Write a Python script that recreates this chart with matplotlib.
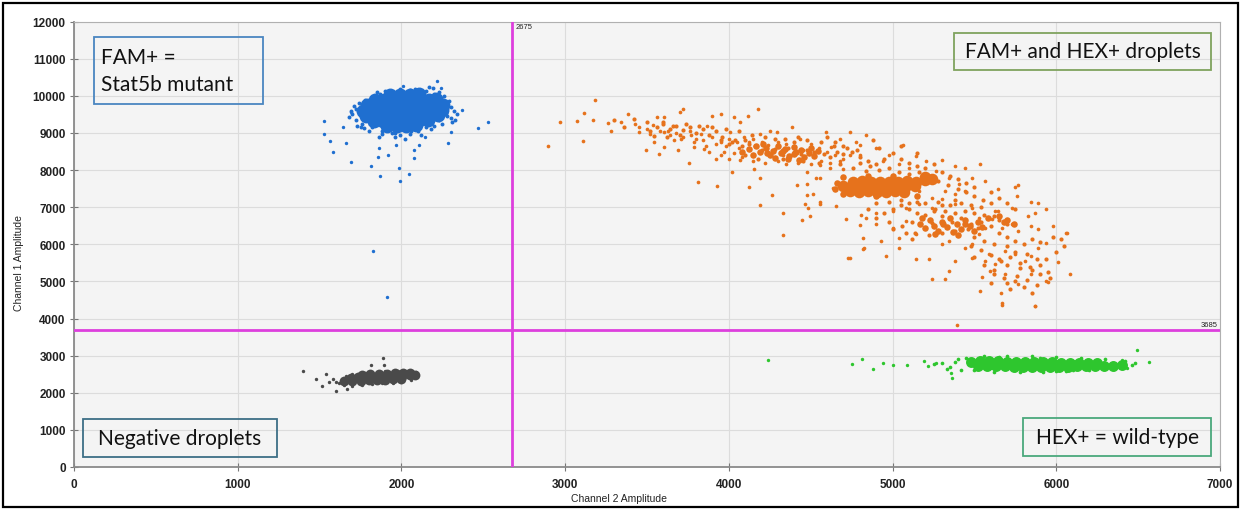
import matplotlib
matplotlib.use("Agg")
import matplotlib.pyplot as plt
from matplotlib.patches import Rectangle

# ---------------- data ----------------
x_threshold = 2675
y_threshold = 3685
x_ticks = [0, 1000, 2000, 3000, 4000, 5000, 6000, 7000]
y_ticks = [0, 1000, 2000, 3000, 4000, 5000, 6000, 7000, 8000, 9000, 10000, 11000, 12000]

# FAM+ (blue) cluster
blue_core_x = [1930, 1990, 2050, 2110,
               1840, 1895, 1950, 2005, 2060, 2115, 2170, 2210,
               1790, 1845, 1900, 1955, 2010, 2065, 2120, 2175, 2230, 2255,
               1765, 1820, 1875, 1930, 1985, 2040, 2095, 2150, 2205, 2250,
               1785, 1840, 1895, 1950, 2005, 2060, 2115, 2170, 2225,
               1830, 1885, 1940, 1995, 2050, 2105, 2160,
               1910, 1970, 2030, 2090]
blue_core_y = [10010, 10020, 10030, 10040,
               9880, 9880, 9885, 9890, 9890, 9895, 9900, 9910,
               9740, 9740, 9745, 9745, 9750, 9750, 9755, 9760, 9765, 9760,
               9600, 9600, 9605, 9605, 9610, 9610, 9615, 9620, 9625, 9620,
               9460, 9460, 9465, 9465, 9470, 9470, 9475, 9480, 9480,
               9320, 9320, 9325, 9330, 9335, 9340, 9345,
               9190, 9190, 9200, 9210]
blue_fringe_x = [1780, 1830, 1870, 1920, 1990, 2050, 2100, 2150, 2190, 2230,
                 2260, 2290, 2300, 2280, 2310, 2250, 2200, 2180, 2100, 2050,
                 1990, 1940, 1880, 1820, 1760, 1720, 1700, 1720, 1740, 1860,
                 1960, 2020, 2120, 1680, 2340, 2320, 2270, 1750, 1800, 2200,
                 2240, 1900, 2000, 2080, 1960, 1710, 2300, 1840, 1730, 1770,
                 1810, 2150, 2230, 2270, 1880, 2060, 1690, 2330, 2170, 1850]
blue_fringe_y = [9900, 9980, 10050, 10080, 10180, 10160, 10150, 10120, 10200, 10100,
                 10000, 9850, 9700, 9450, 9300, 9250, 9200, 9100, 9050, 8980,
                 8950, 9000, 9050, 9150, 9250, 9350, 9500, 9650, 9800, 8900,
                 8880, 8850, 8950, 9420, 9500, 9600, 9550, 9150, 9050, 10050,
                 9950, 10120, 10150, 10180, 8990, 9720, 9400, 10000, 9200, 9120,
                 9230, 9150, 9350, 9650, 8960, 9050, 9600, 9350, 10250, 10100]
blue_out_x = [1525, 1525, 1564, 1580, 1693, 1816, 1867, 1994, 2048, 2075,
              1984, 1859, 1917, 2529, 2465, 2372, 2287, 2301, 2240, 2216,
              2008, 1661, 1641, 1691, 1964, 2075, 1863, 2105, 2145, 1824, 1909]
blue_out_y = [9310, 8982, 8796, 8495, 8204, 8097, 7849, 7699, 7903, 8318,
              8053, 8354, 8407, 9292, 9142, 9619, 8717, 9027, 10221, 10398,
              10265, 8717, 9160, 9558, 8673, 8540, 8584, 8673, 8894, 5818, 4584]

# Negative (grey) cluster
gray_core_x = [1760, 1810, 1860, 1910, 1960, 2010, 2055,
               1690, 1735, 1780, 1825, 1870, 1915, 1960, 2005, 2050, 2080,
               1650, 1700, 1750, 1800, 1850, 1900, 1950, 2000]
gray_core_y = [2490, 2500, 2505, 2510, 2520, 2530, 2540,
               2410, 2415, 2420, 2425, 2430, 2440, 2450, 2460, 2470, 2480,
               2320, 2325, 2330, 2335, 2345, 2355, 2365, 2380]
gray_fringe_x = [1600, 1620, 1650, 1700, 1760, 1820, 1880, 1950, 2000, 2060, 2090,
                 2090, 2050, 1980, 1900, 1850, 1780, 1700, 1660, 1580, 1560, 1700]
gray_fringe_y = [2300, 2250, 2200, 2230, 2220, 2230, 2250, 2270, 2300, 2350, 2450,
                 2550, 2580, 2580, 2590, 2570, 2540, 2500, 2450, 2380, 2280, 2180]
gray_out_x = [1400, 1477, 1515, 1537, 1598, 1816, 1887, 1667, 1891]
gray_out_y = [2574, 2367, 2170, 2493, 2037, 2761, 2949, 2100, 2753]

# HEX+ (green) cluster
green_core_x = [5480, 5535, 5590, 5645, 5700, 5755, 5810, 5865, 5920, 5975, 6030, 6085, 6140, 6195, 6250,
                5520, 5575, 5630, 5685, 5740, 5795, 5850, 5905, 5960, 6015, 6070, 6125, 6180, 6235, 6290, 6345, 6400,
                5600, 5700, 5800, 5900, 6000, 6100]
green_core_y = [2840, 2850, 2845, 2850, 2840, 2835, 2830, 2835, 2830, 2820, 2815, 2810, 2805, 2800, 2790,
                2710, 2710, 2715, 2710, 2705, 2700, 2700, 2695, 2700, 2700, 2705, 2710, 2710, 2715, 2720, 2730, 2740,
                2775, 2770, 2765, 2760, 2760, 2755]
green_fringe_x = [5300, 5350, 5400, 5420, 5450, 5500, 5560, 5620, 5700, 5780, 5850, 5920,
                  6000, 6060, 6150, 6200, 6300, 6350, 6420, 6460, 6480, 5380, 5250,
                  5650, 5900, 6100, 5750, 6000, 5480, 5330]
green_fringe_y = [2800, 2700, 2900, 2600, 2950, 2620, 2980, 2560, 3000, 2570, 2990, 2560,
                  2960, 2580, 2930, 2600, 2900, 2630, 2850, 2750, 2800, 2820, 2780,
                  2960, 2950, 2620, 2600, 2580, 2880, 2650]
green_out_x = [4237, 4750, 4811, 4879, 4939, 5005, 5090, 5194, 5218, 5266, 5363, 5358, 6494, 6569, 6433, 6404]
green_out_y = [2875, 2768, 2920, 2652, 2804, 2750, 2750, 2857, 2723, 2813, 2393, 2545, 3143, 2830, 2679, 2875]

# FAM+ and HEX+ (orange) cluster
orange_core_x = [4760, 4815, 4870, 4925, 4980, 5035, 5090, 5145, 5200,
                 4700, 4755, 4810, 4865, 4920, 4975, 5030, 5085, 5140,
                 4740, 4795, 4850, 4905, 4960, 5015, 5070,
                 5200, 5240]
orange_core_y = [7690, 7700, 7680, 7690, 7670, 7690, 7710, 7690, 7720,
                 7560, 7550, 7560, 7540, 7550, 7560, 7550, 7570, 7560,
                 7430, 7420, 7430, 7410, 7420, 7430, 7410,
                 7820, 7760]
orange_mid_x = [4120, 4165, 4190, 4225, 4250, 4270, 4300, 4320, 4345, 4370, 4395, 4410, 4440, 4460,
                4490, 4520, 4545, 4150, 4210, 4280, 4360, 4430, 4500, 4080, 4235, 4330, 4400,
                5170, 5200, 5230, 5255, 5280, 5300, 5330, 5350, 5370, 5395, 5420, 5445, 5470,
                5500, 5520, 5545, 5260, 5400, 5580, 5180, 5310, 5440, 5650, 5700, 5740, 5680,
                4650, 4660, 4700, 4850, 5000, 5150, 4900, 4700]
orange_mid_y = [8560, 8640, 8480, 8590, 8400, 8520, 8660, 8450, 8560, 8380, 8620, 8480, 8550, 8340,
                8450, 8380, 8520, 8400, 8700, 8330, 8290, 8260, 8600, 8500, 8470, 8510, 8420,
                6560, 6430, 6650, 6500, 6370, 6600, 6470, 6700, 6330, 6560, 6420, 6650, 6500,
                6360, 6600, 6470, 6280, 6260, 6700, 6700, 6540, 6540, 6750, 6650, 6550, 6600,
                7500, 7650, 7800, 7850, 7850, 7300, 7300, 7350]
orange_band_x = [
    3520, 3560, 3600, 3640, 3680, 3720, 3760, 3800, 3840, 3880, 3920, 3960, 3620, 3700, 3540,
    4000, 4040, 4080, 4120, 4160, 4200, 4240, 4280, 4320, 4360, 4400, 4440, 4480, 4520, 4580,
    4620, 4660, 4700, 4250, 4330, 4100, 4180, 4450, 4550, 4400, 4480, 4560, 4640, 4720, 4780,
    4800, 4860, 4920, 4980, 5040, 5100, 5160, 5220, 5280, 5340, 5400, 5450, 5500, 5550, 5600,
    5380, 5300, 5250, 5200, 5150, 5100, 5050, 4980, 4900, 4850, 5000, 5600, 5650, 5700, 5750,
    5120, 5180, 5240, 5300, 5360, 5420, 5480, 5540, 5600, 5140, 5220, 5300, 5380, 5460, 5520,
    5580, 5650, 5700,
    5650, 5700, 5750, 5800, 5850, 5900, 5700, 5750, 5820, 5880, 5650, 5700, 5780, 5850, 5900,
    5950, 5620, 5680, 5750, 5800, 5600, 5720, 5850,
    4600, 4650, 4700, 4750, 4800, 4850, 4900, 4950, 5000, 5050, 5100, 5150, 5200, 4680, 4760,
    4840, 4920, 4880, 5050, 5150, 5250, 5300, 5350, 5400, 5450, 5500,
    5050, 5100, 5150, 5200, 5260, 5320, 5380, 5440, 5500, 5560, 5620, 5280, 5350, 5420, 5480,
    5540, 4950, 4900, 4980, 5060, 5000, 5080, 5120,
    5500, 5560, 5620, 5480, 5540, 5600, 5660, 5720, 5780, 5840, 5900, 5960, 5500, 5560, 5620,
    5700, 5760, 5820, 5880, 5940, 6000, 6050, 5980, 6030,
    3600, 3660, 3740, 3820, 3900, 3980, 4060, 4140, 4220, 4280, 4340, 4420, 3950, 4020, 4100,
    3500, 3420, 3360, 3300]
orange_band_y = [
    9050, 9150, 9250, 9100, 9180, 9080, 9150, 9000, 9100, 8950, 9050, 8900, 8880, 8950, 8920,
    8700, 8800, 8650, 8700, 8650, 8550, 8450, 8580, 8500, 8600, 8500, 8420, 8550, 8480, 8420,
    8350, 8480, 8420, 8400, 8300, 8400, 8300, 8250, 8200, 8750, 8800, 8750, 8650, 8600, 8550,
    8200, 8100, 8000, 8050, 7950, 7900, 7950, 7850, 7700, 7600, 7500, 7400, 7300, 7200, 7100,
    7200, 7050, 6900, 7100, 7150, 7100, 7200, 7150, 7100, 6950, 6950, 7400, 7250, 7100, 6950,
    6600, 6700, 6580, 6750, 6600, 6700, 6550, 6600, 6500, 6300, 6260, 6300, 6350, 6400, 6450,
    6700, 6650, 6550,
    6300, 6200, 6100, 6000, 6150, 6050, 5950, 5800, 5750, 5600, 5600, 5450, 5350, 5300, 5450,
    5250, 5300, 5100, 5000, 4850, 4950, 4800, 4700,
    8900, 8750, 8650, 8500, 8350, 8250, 8150, 8300, 8450, 8300, 8200, 8100, 8050, 8150, 8050,
    7980, 8600, 8800, 8650, 8450, 8150, 7950, 7850, 7750, 7650, 7550,
    7050, 6950, 6850, 6800, 6950, 6900, 6850, 6900, 6850, 6800, 6750, 7150, 7050, 7100, 7050,
    7000, 6850, 6700, 6600, 6500, 6400, 6300, 6150,
    6200, 6100, 6000, 5950, 5850, 5700, 5550, 5650, 5500, 5400, 5200, 5100, 5650, 5450, 5200,
    4950, 5150, 5050, 4900, 5600, 5800, 5950, 6200, 6150,
    9300, 9200, 9250, 9200, 9150, 9100, 9050, 8950, 8900, 8850, 8850, 8900, 8800, 8750, 8800,
    9300, 9380, 9150, 9350]
orange_sparse_x = [
    2895, 2970, 3071, 3117, 3111, 3182, 3172, 3259, 3283, 3343, 3384, 3424, 3454, 3491, 3535, 3562,
    3602, 3606, 3626, 3667, 3701, 3717, 3576, 3545, 3606, 3687, 3758, 3814, 3929, 3707, 3767, 3788,
    3828, 3869, 3899, 3949, 3879, 3919, 3949, 3970, 4010, 4030, 4071, 4050, 4071, 4020, 4121, 4116,
    4176, 4192, 4252, 4293, 4151, 4192, 4263, 4192, 4333, 4384, 4434, 4333, 4475, 4414, 4475, 4535,
    4555, 4596, 4626, 4677, 4737, 4777, 4798, 4697, 4636, 4555, 4444, 4485, 4333, 4808, 4798,
    3450, 3500, 3520, 3580, 3640, 3680, 3720, 3760, 3800, 3840, 3860, 3900, 3920, 3980, 4000, 4060,
    4090, 4120, 4150, 4200, 4240, 4300, 4350, 4400, 4450, 4500, 4550, 4600, 4650, 4700, 4620, 4560,
    4500, 4420, 4350, 4300, 4220, 4150, 4080, 4000, 3950, 4030, 3850, 3790,
    5061, 5141, 5202, 5303, 5384, 5444, 5535, 5485, 5566, 5646, 5747, 5768, 5757, 5848, 5889, 5939,
    5869, 5828, 5727, 5646, 5606, 5667, 5727, 5768, 5848, 5889, 5980, 6061, 5939, 5889, 5848, 5808,
    5747, 5687, 5586, 5566, 5626, 5687, 5596, 5545, 5535, 5667, 5873, 5768, 5848, 5939, 6010, 6081,
    5485, 5444, 5384, 5343, 5323, 5242, 5222, 5141, 5040, 4960, 4929, 4818, 4737, 4818, 4899, 5000,
    5081, 5040, 5141, 5303, 5343, 5485, 5525, 5566, 5525, 5626, 5485, 5384, 5303, 5242, 5162, 5081,
    5000, 4899, 4838, 4717, 4657, 4556, 4495, 4465, 4515, 4475, 4556, 4616, 4677, 4737, 4798, 4838,
    4899, 4939, 4980, 5040, 5101, 5263, 5343, 5404, 5384, 5444, 5323, 5242, 5162, 4828, 4727,
    6064, 5665, 5948, 5666, 5872, 5392]
orange_sparse_y = [
    8638, 9288, 9333, 9537, 8772, 9893, 9359, 9261, 9066, 9288, 9511, 9243, 9021, 8532, 9217, 9439,
    9421, 9021, 9066, 8798, 9573, 9644, 8443, 8754, 8620, 8532, 8202, 7668, 7579, 8843, 8932, 8754,
    8977, 9199, 9466, 9511, 8487, 8309, 8754, 8487, 9021, 9421, 9288, 8754, 8265, 7953, 7553, 9466,
    9644, 8977, 9066, 9021, 8042, 7775, 7330, 7063, 6840, 9155, 8843, 8398, 7953, 7597, 7330, 7775,
    8131, 9021, 8620, 8843, 9021, 8754, 8398, 8042, 7508, 7152, 6663, 6974, 6262, 6796, 6529,
    9150, 9100, 8980, 9050, 8950, 9000, 8900, 9050, 8850, 8800, 8650, 8900, 8700, 8650, 8850, 8600,
    8900, 8750, 8850, 8750, 8680, 8760, 8700, 8650, 8550, 8700, 8600, 8500, 8400, 8300, 8200, 8250,
    8150, 8200, 8150, 8250, 8200, 8250, 8350, 8300, 8400, 8450, 8580, 8620,
    8687, 8374, 8239, 8284, 8105, 8060, 8150, 7792, 7702, 7479, 7541, 7595, 7300, 7147, 7120, 6942,
    6852, 6763, 6987, 6897, 6673, 6449, 6539, 6360, 6494, 6405, 6494, 6315, 6047, 5912, 5689, 5554,
    5733, 5823, 5733, 5554, 5465, 5196, 5286, 5107, 4731, 4409, 4346, 4928, 5196, 4999, 5510, 5196,
    5644, 5912, 5554, 5286, 5062, 5062, 5599, 5599, 5912, 5689, 6092, 5868, 5644, 6181, 6539, 6449,
    6628, 6181, 6270, 6002, 6092, 6002, 6270, 6449, 6718, 6897, 6987, 7077, 7210, 6987, 7077, 6987,
    6897, 6852, 6718, 6673, 7031, 7077, 6763, 7077, 7344, 7613, 7792, 8060, 8239, 8418, 8687, 8955,
    8597, 8239, 8418, 8150, 8060, 7971, 7792, 7613, 7344, 7434, 7434, 7255, 7434, 5912, 5644,
    6297, 4686, 4981, 4375, 4330, 3821]

# annotation boxes
box_texts = ["FAM+ =\nStat5b mutant", "FAM+ and HEX+ droplets", "Negative droplets", "HEX+ = wild-type"]
box_x0 = [122, 5376, 58, 5799]
box_x1 = [1154, 6945, 1237, 6944]
box_y0 = [9779, 10690, 268, 295]
box_y1 = [11584, 11700, 1295, 1321]
box_colors = ["#4a86c0", "#7fa35e", "#3d6f86", "#4aa87c"]

# ---------------- figure ----------------
W, H = 1243, 510
fig = plt.figure(figsize=(W / 100, H / 100), dpi=100)
fig.patch.set_facecolor("white")
ax = fig.add_axes([74 / W, (H - 468) / H, (1220 - 74) / W, (468 - 22.6) / H])
ax.set_facecolor("#f4f4f4")
ax.set_xlim(0, 7000)
ax.set_ylim(0, 12000)
ax.set_xticks(x_ticks)
ax.set_yticks(y_ticks)
ax.grid(True, color="#dcdcdc", lw=0.8, zorder=0)
ax.set_axisbelow(True)

tickfont = dict(family=["Liberation Sans", "DejaVu Sans"], weight="bold", size=8.5)
ax.set_xticklabels([str(v) for v in x_ticks], **tickfont, color="#222222")
ax.set_yticklabels([str(v) for v in y_ticks], **tickfont, color="#222222")
ax.tick_params(axis="both", direction="inout", length=6, width=0.8, color="#777777", pad=3)
ax.tick_params(axis="x", pad=5)
for s in ["left", "bottom"]:
    ax.spines[s].set_color("#8a8a8a")
    ax.spines[s].set_linewidth(1.3)
for s in ["top", "right"]:
    ax.spines[s].set_color("#b0b0b0")
    ax.spines[s].set_linewidth(0.8)

labfont = dict(family=["Liberation Sans", "DejaVu Sans"], size=7.5, color="#222222")
ax.set_xlabel("Channel 2 Amplitude", **labfont)
ax.xaxis.set_label_coords(0.476, -0.058)
ax.set_ylabel("Channel 1 Amplitude", **labfont)
ax.yaxis.set_label_coords(-0.044, 0.46)

# clusters
blue = "#1f6fd0"
gray = "#4a4a4a"
green = "#2ec62e"
orange = "#e6721c"
ax.scatter(blue_core_x, blue_core_y, s=100, c=blue, lw=0, zorder=3)
ax.scatter(blue_fringe_x, blue_fringe_y, s=8, c=blue, lw=0, zorder=3)
ax.scatter(blue_out_x, blue_out_y, s=6, c=blue, lw=0, zorder=3)
ax.scatter(gray_core_x, gray_core_y, s=50, c=gray, lw=0, zorder=3)
ax.scatter(gray_fringe_x, gray_fringe_y, s=6, c=gray, lw=0, zorder=3)
ax.scatter(gray_out_x, gray_out_y, s=6, c=gray, lw=0, zorder=3)
ax.scatter(green_core_x, green_core_y, s=62, c=green, lw=0, zorder=3)
ax.scatter(green_fringe_x, green_fringe_y, s=7, c=green, lw=0, zorder=3)
ax.scatter(green_out_x, green_out_y, s=6, c=green, lw=0, zorder=3)
ax.scatter(orange_core_x, orange_core_y, s=70, c=orange, lw=0, zorder=3)
ax.scatter(orange_mid_x, orange_mid_y, s=22, c=orange, lw=0, zorder=3)
ax.scatter(orange_band_x, orange_band_y, s=9, c=orange, lw=0, zorder=3)
ax.scatter(orange_sparse_x, orange_sparse_y, s=7, c=orange, lw=0, zorder=3)

# thresholds
mag = "#dd3fdd"
ax.axvline(x_threshold, color=mag, lw=2, zorder=4)
ax.axhline(y_threshold, color=mag, lw=2, zorder=4)
small = dict(family=["Liberation Sans", "DejaVu Sans"], size=5.5, color="#222222")
ax.text(x_threshold + 25, 11960, str(x_threshold), ha="left", va="top", **small, zorder=5)
ax.text(6985, y_threshold + 60, str(y_threshold), ha="right", va="bottom", **small, zorder=5)

# annotation boxes
for t, x0, x1, y0, y1, ec in zip(box_texts, box_x0, box_x1, box_y0, box_y1, box_colors):
    ax.add_patch(Rectangle((x0, y0), x1 - x0, y1 - y0, fill=False, ec=ec, lw=1.3, zorder=6))
    if "\n" in t:
        ax.text(x0 + 40, (y0 + y1) / 2, t, ha="left", va="center", family=["Lato", "DejaVu Sans"],
                size=15, color="#111111", linespacing=1.45, zorder=7)
    else:
        ax.text((x0 + x1) / 2, (y0 + y1) / 2, t, ha="center", va="center", family=["Lato", "DejaVu Sans"],
                size=15, color="#111111", zorder=7)

# outer frame of the picture
fig.patches.append(Rectangle((3 / W, 2 / H), (1238 - 3) / W, (506 - 2) / H, transform=fig.transFigure,
                             fill=False, ec="black", lw=1.6))

fig.savefig("out.png", dpi=100, facecolor="white")
